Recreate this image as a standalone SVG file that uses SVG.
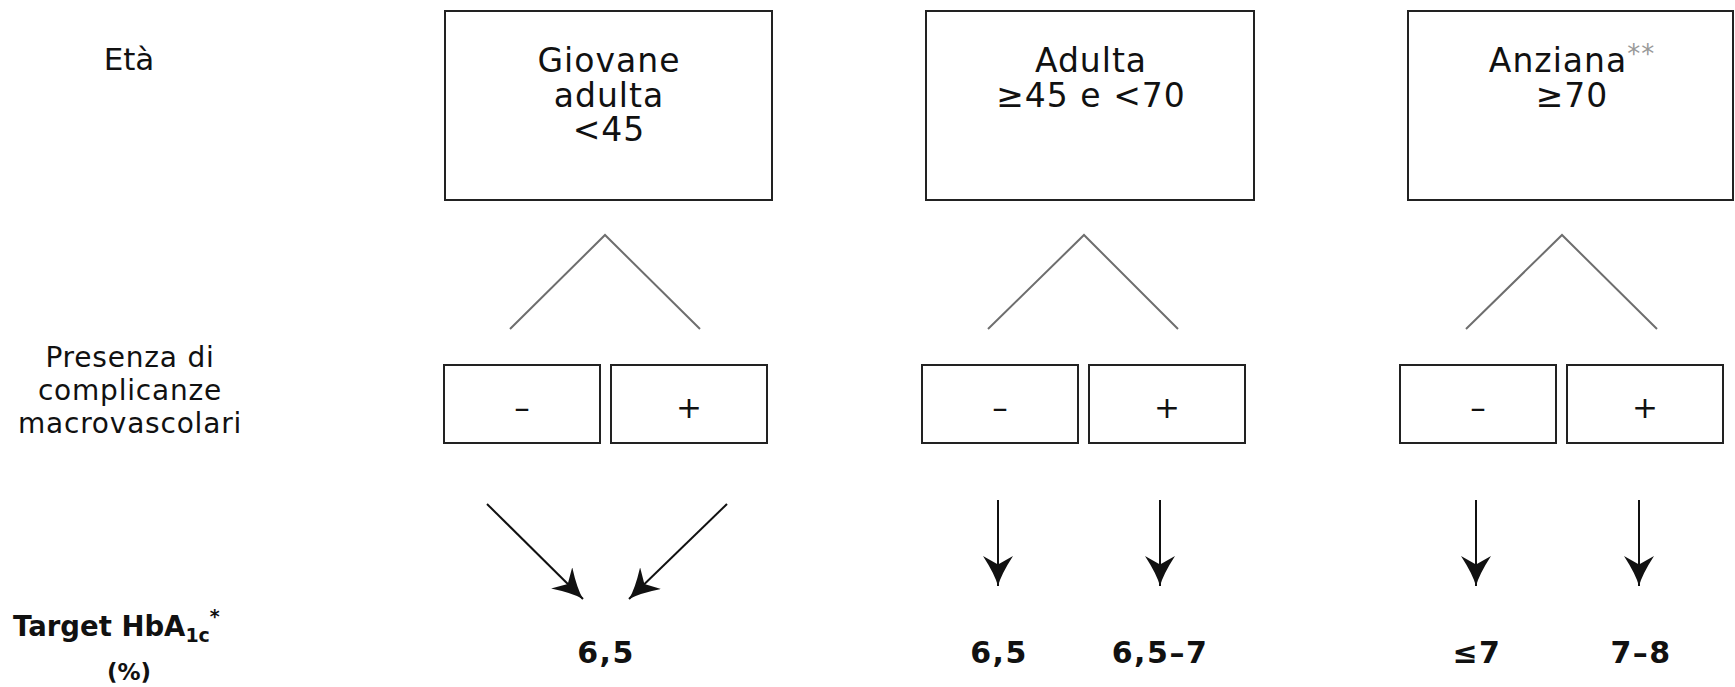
<svg xmlns="http://www.w3.org/2000/svg" width="1735" height="687" viewBox="0 0 1735 687">
  <style>
    .lbl { font-family: "DejaVu Sans", "Liberation Sans", sans-serif; fill: #111; }
    .box { fill: #fff; stroke: #222; stroke-width: 2; }
    .branch { fill: none; stroke: #6e6e6e; stroke-width: 2; }
    .arrow { fill: none; stroke: #111; stroke-width: 2; marker-end: url(#head); }
    .age { font-size: 33px; letter-spacing: 1px; text-anchor: middle; }
    .sign { font-size: 31px; text-anchor: middle; }
    .row { font-size: 28px; letter-spacing: 0.8px; text-anchor: middle; }
    .val { font-size: 30px; font-weight: bold; letter-spacing: 1.5px; text-anchor: middle; }
  </style>
  <defs>
    <marker id="head" markerUnits="userSpaceOnUse" markerWidth="30" markerHeight="30" viewBox="0 0 28 28" refX="28" refY="14" orient="auto">
      <path d="M0,0 Q17,11 28,14 Q17,17 0,28 L8,14 Z" fill="#111"/>
    </marker>
  </defs>
  <rect width="1735" height="687" fill="#fff"/>

  <!-- row headings -->
  <g id="row-eta">
    <text class="lbl" x="129" y="70" font-size="31" text-anchor="middle">Età</text>
  </g>
  <g id="row-complicanze">
    <text class="lbl row" x="130" y="367">Presenza di</text>
    <text class="lbl row" x="130" y="400">complicanze</text>
    <text class="lbl row" x="130" y="433">macrovascolari</text>
  </g>
  <g id="row-target">
    <text class="lbl" x="13" y="636" font-size="27.5" font-weight="bold">Target HbA<tspan font-size="19" dy="6">1c</tspan><tspan font-size="19" dy="-19">*</tspan></text>
    <text class="lbl" x="129" y="680" font-size="23" font-weight="bold" text-anchor="middle">(%)</text>
  </g>

  <!-- age groups -->
  <g id="age-giovane">
    <rect class="box" x="445" y="11" width="327" height="189"/>
    <text class="lbl age" x="609" y="72">Giovane</text>
    <text class="lbl age" x="609" y="107">adulta</text>
    <text class="lbl age" x="609" y="141">&lt;45</text>
  </g>
  <g id="age-adulta">
    <rect class="box" x="926" y="11" width="328" height="189"/>
    <text class="lbl age" x="1091" y="72">Adulta</text>
    <text class="lbl age" x="1091" y="107">≥45 e &lt;70</text>
  </g>
  <g id="age-anziana">
    <rect class="box" x="1408" y="11" width="325" height="189"/>
    <text class="lbl age" x="1572" y="72">Anziana<tspan font-size="26" dy="-9" fill="#999">**</tspan></text>
    <text class="lbl age" x="1572" y="107">≥70</text>
  </g>

  <!-- complication boxes -->
  <g id="g1-minus">
    <rect class="box" x="444" y="365" width="156" height="78"/>
    <text class="lbl sign" x="522" y="418">–</text>
  </g>
  <g id="g1-plus">
    <rect class="box" x="611" y="365" width="156" height="78"/>
    <text class="lbl sign" x="689" y="418">+</text>
  </g>
  <g id="g2-minus">
    <rect class="box" x="922" y="365" width="156" height="78"/>
    <text class="lbl sign" x="1000" y="418">–</text>
  </g>
  <g id="g2-plus">
    <rect class="box" x="1089" y="365" width="156" height="78"/>
    <text class="lbl sign" x="1167" y="418">+</text>
  </g>
  <g id="g3-minus">
    <rect class="box" x="1400" y="365" width="156" height="78"/>
    <text class="lbl sign" x="1478" y="418">–</text>
  </g>
  <g id="g3-plus">
    <rect class="box" x="1567" y="365" width="156" height="78"/>
    <text class="lbl sign" x="1645" y="418">+</text>
  </g>

  <!-- target values -->
  <g id="t1"><text class="lbl val" x="606" y="663">6,5</text></g>
  <g id="t2"><text class="lbl val" x="999" y="663">6,5</text></g>
  <g id="t3"><text class="lbl val" x="1160" y="663">6,5–7</text></g>
  <g id="t4"><text class="lbl val" x="1477" y="663">≤7</text></g>
  <g id="t5"><text class="lbl val" x="1641" y="663">7–8</text></g>

  <!-- connectors -->
  <g id="connectors">
    <polyline class="branch" points="510,329 605,235 700,329"/>
    <polyline class="branch" points="988,329 1084,235 1178,329"/>
    <polyline class="branch" points="1466,329 1562,235 1657,329"/>

    <line class="arrow" x1="487" y1="504" x2="583" y2="599"/>
    <line class="arrow" x1="727" y1="504" x2="629" y2="599"/>
    <line class="arrow" x1="998" y1="500" x2="998" y2="586"/>
    <line class="arrow" x1="1160" y1="500" x2="1160" y2="586"/>
    <line class="arrow" x1="1476" y1="500" x2="1476" y2="586"/>
    <line class="arrow" x1="1639" y1="500" x2="1639" y2="586"/>
  </g>
</svg>
